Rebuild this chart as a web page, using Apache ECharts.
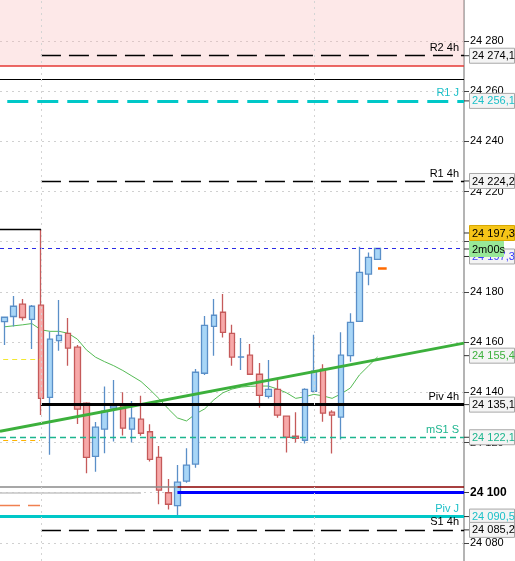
<!DOCTYPE html>
<html>
<head>
<meta charset="utf-8">
<script src="https://cdn.jsdelivr.net/npm/echarts@6/dist/echarts.min.js"></script>
<style>
html,body{margin:0;padding:0;background:#fff;}
#chart{width:515px;height:561px;}
</style>
</head>
<body>
<div id="chart"></div>
<script>
// ---------- DATA ----------
const categories = Array.from({length: 51}, (_, i) => String(i + 1));
const candleOpen  = [24168.2,24170.2,24175.1,24169.1,24174.7,24138.0,24160.6,24163.5,24158.0,24135.7,24114.5,24125.3,24133.7,24134.6,24125.3,24129.3,24124.3,24114.1,24100.0,24094.9,24104.6,24111.4,24147.6,24166.3,24171.9,24163.5,24154.0,24154.8,24147.2,24138.4,24141.2,24130.5,24122.5,24120.9,24140.4,24149.2,24132.1,24130.1,24154.6,24168.3,24187.1,24193.0];
const candleClose = [24169.9,24174.3,24169.8,24174.3,24137.6,24161.2,24162.7,24157.6,24133.3,24114.1,24126.1,24132.5,24134.6,24125.7,24129.7,24123.7,24113.3,24101.0,24095.4,24104.2,24111.0,24148.0,24166.7,24170.7,24163.9,24154.0,24154.1,24147.2,24138.8,24141.2,24130.9,24122.1,24121.7,24141.2,24148.4,24131.7,24130.9,24154.8,24167.9,24187.8,24193.8,24197.3];
const candleLow   = [24158.9,24166.2,24168.6,24157.3,24131.0,24115.1,24156.6,24150.6,24127.4,24107.8,24108.4,24115.7,24120.4,24122.8,24120.0,24122.7,24112.4,24095.4,24093.3,24090.5,24104.0,24110.0,24146.9,24154.6,24161.8,24150.6,24148.9,24147.0,24133.9,24137.5,24129.9,24116.0,24120.0,24119.6,24140.2,24128.3,24115.6,24121.2,24152.2,24168.0,24182.7,24193.0];
const candleHigh  = [24170.2,24178.4,24177.2,24174.8,24205.0,24164.1,24176.8,24169.6,24158.9,24136.0,24128.2,24142.3,24144.9,24140.0,24136.5,24138.6,24127.3,24118.6,24105.5,24111.0,24117.7,24149.3,24170.4,24177.2,24179.2,24166.9,24161.6,24159.3,24151.7,24152.9,24145.6,24130.7,24132.1,24141.6,24162.9,24151.2,24132.9,24163.9,24171.5,24198.0,24195.7,24197.3];
const maValues    = [24166.1,24166.5,24166.9,24167.4,24164.9,24164.3,24164.3,24163.5,24161.2,24156.9,24154.0,24152.2,24150.6,24148.7,24146.5,24144.3,24141.0,24137.4,24133.4,24129.8,24128.6,24131.4,24133.4,24137.0,24139.8,24141.3,24142.1,24142.4,24142.5,24142.5,24141.3,24139.8,24137.6,24138.2,24139.2,24138.6,24137.6,24139.4,24141.7,24146.9,24150.5,24154.1];

const trendX = [-0.5, 50.5];
const trendY = [24124.5, 24159.6];
const trendLast = 24155.4;

const yTicks = [24080,24100,24120,24140,24160,24180,24200,24220,24240,24260,24280];

const levelNames  = ['R2 4h','R1 J','R1 4h','Piv 4h','mS1 S','Piv J','S1 4h'];
const levelValues = [24274.1,24256.1,24224.2,24135.1,24122.1,24090.5,24085.2];
const levelStart  = [4,0.3,4,4,-0.5,-0.5,4];

const zoneLow = 24270.0;       // red line / pink zone bottom
const prevHighLine = 24264.7;  // thin black line
const prevHigh4h = 24205.0;    // black line, left part
const lastPrice = 24197.3;
const bidPrice = 24189.3;
const oldLevels = [24153.2, 24120.9, 24095.0];   // short dashed left segments
const roundLevel = 24100.0;
const roundUpper = 24102.2;
const sessionStarts = [4, 34];
const splitCategory = 19;
const timerText = '2m00s';

// ---------- HELPERS ----------
function fmtInt(v){ return String(Math.round(v)).replace(/(\d{2})(\d{3})$/, '$1 $2'); }
function fmtPrice(v){ const p = v.toFixed(1).split('.'); return fmtInt(+p[0]) + ',' + p[1]; }

const START = -0.5, END = 50.5;
const levelStyles = {
  'R2 4h':  {color:'#000', type:[20,8], width:1.3, text:'#000'},
  'R1 J':   {color:'#00c8c8', type:[21,9], width:3, text:'#1cc0c8'},
  'R1 4h':  {color:'#000', type:[20,8], width:1.3, text:'#000'},
  'Piv 4h': {color:'#000', type:'solid', width:3, text:'#000'},
  'mS1 S':  {color:'#1db58e', type:[6,4], width:1.3, text:'#1db58e'},
  'Piv J':  {color:'#00c8c8', type:'solid', width:3, text:'#1cc0c8'},
  'S1 4h':  {color:'#000', type:[20,8], width:1.3, text:'#000'}
};
const FONT = '"Liberation Sans", Arial, sans-serif';

const markLines = [];
function seg(x0, x1, v, style){
  markLines.push([{coord:[x0, v], lineStyle:style, label:{show:false}}, {coord:[x1, v]}]);
}
seg(START, END, zoneLow, {color:'#e53935', width:1.5, type:'solid'});
seg(START, END, prevHighLine, {color:'#000', width:1.2, type:'solid'});
seg(START, sessionStarts[0], prevHigh4h, {color:'#000', width:1.3, type:'solid'});
seg(START, END, lastPrice, {color:'#2a2ae6', width:1, type:[4,4]});
seg(41.05, 42, bidPrice, {color:'#ff6a00', width:2.5, type:'solid'});
seg(-0.15, 3.9, oldLevels[0], {color:'#f2e830', width:1, type:[5,4]});
seg(-0.15, 3.9, oldLevels[1], {color:'#ffb300', width:1, type:[5,4]});
seg(START, 3.9, oldLevels[2], {color:'#f08050', width:1.3, type:[20,8]});
seg(START, splitCategory, roundUpper, {color:'#8a8a8a', width:1.5, type:'solid'});
seg(splitCategory, END, roundUpper, {color:'#8b0000', width:1.5, type:'solid'});
seg(START, 15, roundLevel + 0.1, {color:'#c4c4c4', width:1.5, type:'solid'});
seg(splitCategory, END, roundLevel, {color:'#0000ff', width:3, type:'solid'});
levelNames.forEach((n, i) => {
  const s = levelStyles[n];
  markLines.push([
    {coord:[levelStart[i], levelValues[i]], lineStyle:{color:s.color, type:s.type, width:s.width},
     label:{show:true, position:'insideEndTop', formatter:n, color:s.text, fontSize:11, fontFamily:FONT, distance:[5,2]}},
    {coord:[END, levelValues[i]]}
  ]);
});
sessionStarts.forEach(x => markLines.push({xAxis:x, lineStyle:{color:'#d4d4d4', type:[2,4], width:1}, label:{show:false}}));

// Right-hand price boxes
const boxValues = [24274.1,24256.1,24224.2,lastPrice,trendLast,24135.1,24122.1,24090.5,24085.2,lastPrice,lastPrice];
const boxKinds  = ['lvl','cyan','lvl','last','green','lvl','teal','cyan','lvl','ask','timer'];
const boxStyles = {
  lvl:   {fill:'#f4f4f4', stroke:'#a8a8a8', text:'#000', dy:0},
  cyan:  {fill:'#f4f4f4', stroke:'#a8a8a8', text:'#1cc0c8', dy:0},
  teal:  {fill:'#f4f4f4', stroke:'#a8a8a8', text:'#1db58e', dy:0},
  green: {fill:'#f4f4f4', stroke:'#a8a8a8', text:'#3cb03c', dy:2},
  last:  {fill:'#f4f4f4', stroke:'#a8a8a8', text:'#3a3aff', dy:8},
  ask:   {fill:'#f5c518', stroke:'#d9a800', text:'#000', dy:-15.5},
  timer: {fill:'#98e898', stroke:'#98e898', text:'#000', dy:0.5, w:34}
};
const boxData = boxValues.map((v, i) => [END, v, i]);

const option = {
  animation:false,
  backgroundColor:'#fff',
  grid:{left:0, right:51, top:0, bottom:0},
  xAxis:[
    {type:'category', data:categories, boundaryGap:true, show:false},
    {type:'value', min:START, max:END, show:false}
  ],
  yAxis:{
    type:'value', position:'right', min:24072.8, max:24296.3, scale:true,
    axisLine:{show:true, onZero:false, lineStyle:{color:'#b4b4b4', width:2}},
    axisTick:{show:true, length:5, customValues:yTicks, lineStyle:{color:'#444'}},
    axisLabel:{customValues:yTicks, color:'#000', fontSize:11, fontFamily:FONT, margin:6,
      formatter:v => Math.round(v) === 24100 ? '{b|' + fmtInt(v) + '}' : fmtInt(v),
      rich:{b:{fontWeight:'bold', fontSize:12, fontFamily:FONT, color:'#000'}}},
    splitLine:{show:true, lineStyle:{color:'#d0d0d0', type:[2,4], width:1}}
  },
  series:[
    {
      type:'line', xAxisIndex:0, data:maValues, symbol:'none', z:2,
      lineStyle:{color:'#55bb55', width:1}
    },
    {
      type:'candlestick', xAxisIndex:0, z:3, barWidth:6,
      data:candleOpen.map((o, i) => [o, candleClose[i], candleLow[i], candleHigh[i]]),
      itemStyle:{color:'#a8d6f7', color0:'#f7a9a9', borderColor:'#5a8fc8', borderColor0:'#c55a5a', borderWidth:1.3}
    },
    {
      type:'line', xAxisIndex:1, z:4, symbol:'none',
      data:trendX.map((x, i) => [x, trendY[i]]),
      lineStyle:{color:'#3cb03c', width:3},
      markArea:{silent:true, itemStyle:{color:'rgba(248,178,178,0.3)'}, data:[[{yAxis:zoneLow},{yAxis:24296.3}]]},
      markLine:{silent:true, symbol:['none','none'], animation:false, data:markLines}
    },
    {
      type:'custom', xAxisIndex:1, z:10, clip:false,
      data:boxData, encode:{x:0, y:1},
      renderItem:(params, api) => {
        const i = api.value(2);
        const st = boxStyles[boxKinds[i]];
        const cs = params.coordSys;
        const y = api.coord([0, api.value(1)])[1] + st.dy;
        const x0 = cs.x + cs.width;
        const w = st.w || 45, h = 15;
        return {type:'group', children:[
          {type:'line', shape:{x1:x0, y1:y, x2:x0+6, y2:y}, style:{stroke:'#333', lineWidth:1}},
          {type:'rect', shape:{x:x0+5.5, y:y-h/2, width:w, height:h}, style:{fill:st.fill, stroke:st.stroke, lineWidth:1}},
          {type:'text', style:{text: boxKinds[i]==='timer' ? timerText : fmtPrice(api.value(1)), x:x0+8, y:y+0.5, fill:st.text, font:'11px ' + FONT, verticalAlign:'middle', align:'left'}}
        ]};
      }
    }
  ]
};
const chart = echarts.init(document.getElementById('chart'), null, {renderer:'canvas'});
chart.setOption(option);
</script>
</body>
</html>
